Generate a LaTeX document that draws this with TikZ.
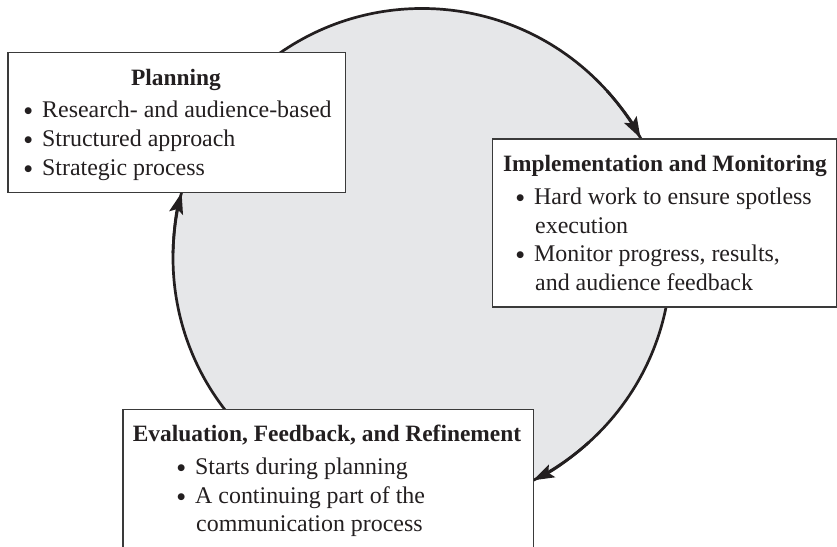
\documentclass[tikz,border=0pt]{standalone}
\usepackage{fontspec}
\setmainfont{Liberation Serif}
\newfontfamily\symfont{DejaVu Sans}
\usetikzlibrary{arrows.meta}
\definecolor{circfill}{HTML}{E6E7E9}
\definecolor{ink}{HTML}{231F20}
\definecolor{boxline}{HTML}{3A3A3A}
\newcommand{\bulmark}{\llap{\makebox[28bp][c]{\raisebox{4.2bp}{\fontsize{9}{9}\symfont ●}}}}
\tikzset{
  box/.style={draw=boxline, line width=1.3bp, fill=white},
  ttl/.style={inner sep=0pt, anchor=base, font=\fontsize{23.5}{28}\selectfont\bfseries, text=ink},
  itm/.style={inner sep=0pt, anchor=base west, font=\fontsize{24}{28.5}\selectfont, text=ink},
  ring/.style={draw=ink, line width=2.7bp},
  arr/.style={draw=ink, line width=2.7bp, -{Stealth[length=21bp, width=14bp, inset=4bp]}},
}
\begin{document}
\begin{tikzpicture}[x=1bp, y=1bp]
\useasboundingbox (0,0) rectangle (837,547);
\clip (0,0) rectangle (837,547);
\coordinate (c) at (422,289.5);
% circle
\fill[circfill] (c) circle[radius=249];
\draw[ring] (c) circle[radius=249];
% boxes
\node[box, minimum width=337.7bp, minimum height=140bp, anchor=north west, inner sep=0pt] (planbox) at (7.3,495.3) {};
\node[box, minimum width=344.5bp, minimum height=168bp, anchor=north west, inner sep=0pt] (implbox) at (491.7,408.7) {};
\node[box, minimum width=410.5bp, minimum height=150bp, anchor=north west, inner sep=0pt] (evalbox) at (122.3,138) {};
% arrows along the ring
\draw[arr] (c) ++(42:249) arc[start angle=42, end angle=28.65, radius=249];
\draw[arr] (c) ++(-48:249) arc[start angle=-48, end angle=-63.5, radius=249];
\draw[arr] (c) ++(179:249) arc[start angle=179, end angle=164.9, radius=249];
% Planning
\node[ttl] (pt) at (176,461) {Planning};
\node[itm] (p1) at (42,429) {\bulmark Research- and audience-based};
\node[itm] (p2) at (42,400) {\bulmark Structured approach};
\node[itm] (p3) at (42,371) {\bulmark Strategic process};
% Implementation
\node[ttl] (it) at (665,375.3) {Implementation and Monitoring};
\node[itm] (i1) at (534,342) {\bulmark Hard work to ensure spotless};
\node[itm] (i1b) at (535,313.5) {execution};
\node[itm] (i2) at (534,285) {\bulmark Monitor progress, results,};
\node[itm] (i2b) at (535,256.5) {and audience feedback};
% Evaluation
\node[ttl] (et) at (327,105.3) {Evaluation, Feedback, and Refinement};
\node[itm] (e1) at (195,72) {\bulmark Starts during planning};
\node[itm] (e2) at (195,43.5) {\bulmark A continuing part of the};
\node[itm] (e2b) at (196,15) {communication process};
\end{tikzpicture}
\end{document}
